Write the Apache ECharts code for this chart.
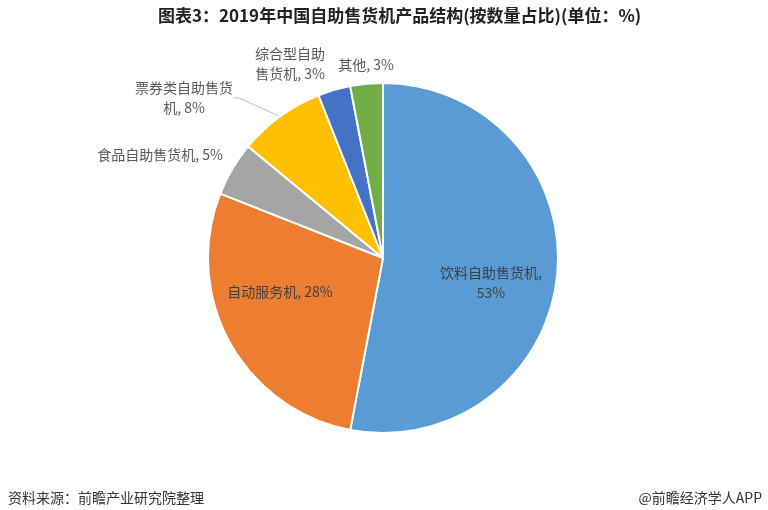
<!DOCTYPE html>
<html><head><meta charset="utf-8">
<script src="https://cdn.jsdelivr.net/npm/echarts@6/dist/echarts.min.js"></script>
<style>html,body{margin:0;padding:0;background:#fff}#c{width:768px;height:510px}</style>
</head><body><div id="c"></div>
<script>
var categories = ['饮料自助售货机','自动服务机','食品自助售货机','票券类自助售货机','综合型自助售货机','其他'];
var values = [53, 28, 5, 8, 3, 3];
var labelTexts = ['饮料自助售货机,\n53%','自动服务机, 28%','食品自助售货机, 5%','票券类自助售货\n机, 8%','综合型自助\n售货机, 3%','其他, 3%'];
var colors = ['#5B9BD5','#ED7D31','#A5A5A5','#FFC000','#4472C4','#70AD47'];
var insideFlags = [true, true, false, false, false, false];
var showLines = [false, false, false, true, false, false];

// label placement (center points), layout only
var labelSpots = [[491,283],[280,292],[160,155],[184,98],[290,64],[366,65]];

var chart = echarts.init(document.getElementById('c'));
var data = categories.map(function(n,i){
  return {name:n, value:values[i], itemStyle:{color:colors[i]},
    label:{formatter:labelTexts[i], position: insideFlags[i]?'inside':'outside',
      color: insideFlags[i] ? '#404040' : '#595959'},
    labelLine:{show:showLines[i]}};
});
chart.setOption({
  backgroundColor:'#fff',
  title:{text:'图表3：2019年中国自助售货机产品结构(按数量占比)(单位：%)', left:153, top:2,
    textStyle:{fontSize:17, fontWeight:'bold', color:'#222', fontFamily:'Noto Sans CJK SC'}},
  graphic:[
    {type:'text', left:8, top:491, style:{text:'资料来源：前瞻产业研究院整理', fontSize:14, fill:'#333', fontFamily:'Noto Sans CJK SC'}},
    {type:'text', right:6, top:491, style:{text:'@前瞻经济学人APP', fontSize:14, fill:'#333', fontFamily:'Noto Sans CJK SC'}}
  ],
  series:[{
    type:'pie', center:[383,258], radius:[0,175], startAngle:90, clockwise:true,
    animation:false,
    itemStyle:{borderColor:'#fff', borderWidth:2},
    label:{fontSize:14, fontFamily:'Noto Sans CJK SC', lineHeight:20, align:'center'},
    labelLine:{length:8, length2:6, lineStyle:{color:'#bfbfbf'}},
    labelLayout:function(p){
      var s = labelSpots[p.dataIndex];
      return {x:s[0], y:s[1], align:'center', verticalAlign:'middle'};
    },
    data:data
  }]
});
</script></body></html>
